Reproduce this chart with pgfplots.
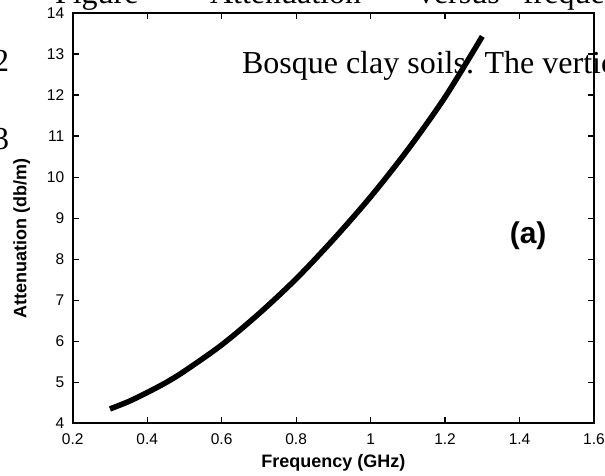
\documentclass[border=0pt]{standalone}
\usepackage{fontspec}
\setmainfont{Liberation Sans}
\newfontfamily\serifbg{Liberation Serif}
\usepackage{pgfplots}
\pgfplotsset{compat=1.18}
\pgfplotstableread{
f att
0.30 4.35
0.35 4.53
0.40 4.75
0.45 4.99
0.50 5.27
0.60 5.91
0.70 6.67
0.80 7.52
0.90 8.48
1.00 9.52
1.10 10.67
1.20 11.95
1.30 13.43
}\atttable
\begin{document}
\begin{tikzpicture}
\path[use as bounding box, clip] (0,0) rectangle (605bp,476bp);
\begin{scope}[x=1bp,y=1bp,every node/.style={inner sep=0pt,outer sep=0pt}]
  \node[anchor=base west,font=\serifbg\fontsize{32bp}{38bp}\selectfont] at (55,472) {Figure};
  \node[anchor=base west,font=\serifbg\fontsize{32bp}{38bp}\selectfont] at (210,472) {Attenuation};
  \node[anchor=base west,font=\serifbg\fontsize{32bp}{38bp}\selectfont] at (418,472) {versus};
  \node[anchor=base west,font=\serifbg\fontsize{32bp}{38bp}\selectfont] at (523,472) {frequency};
  \node[anchor=base west,font=\serifbg\fontsize{32bp}{38bp}\selectfont] at (-7,404) {2};
  \node[anchor=base west,font=\serifbg\fontsize{32bp}{38bp}\selectfont] at (-7,327) {3};
  \node[anchor=base west,font=\serifbg\fontsize{32bp}{38bp}\selectfont] at (242,402.7) {Bosque clay soils. The vertical};
\end{scope}
\begin{axis}[
  at={(72.7bp,52.7bp)}, anchor=south west,
  width=521.3bp, height=410.3bp, scale only axis,
  xmin=0.2, xmax=1.6, ymin=4, ymax=14,
  xtick={0.2,0.4,...,1.6}, ytick={4,5,...,14},
  xticklabels={0.2,0.4,0.6,0.8,1,1.2,1.4,1.6},
  tick align=inside, major tick length=6bp,
  every tick/.style={black, line width=1.2bp},
  axis line style={line width=1.8bp},
  /pgf/number format/assume math mode=true,
  tick label style={font=\fontsize{15.5bp}{18bp}\selectfont},
  xticklabel style={yshift=-7bp},
  yticklabel style={xshift=-5bp},
  xlabel={Frequency (GHz)}, ylabel={Attenuation (db/m)},
  label style={font=\bfseries\fontsize{18bp}{22bp}\selectfont},
  xlabel style={yshift=-3bp},
  ylabel style={at={(ticklabel cs:0.45)}, yshift=10bp},
]
\addplot[black, line width=5.5bp, smooth] table[x=f, y=att] {\atttable};
\node[font=\bfseries\fontsize{30bp}{34bp}\selectfont] at (axis cs:1.423,8.57) {(a)};
\end{axis}
\end{tikzpicture}
\end{document}
